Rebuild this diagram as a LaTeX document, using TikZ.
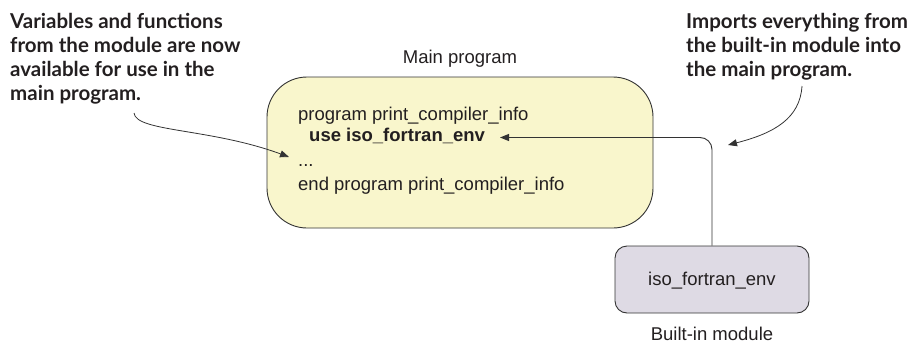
\documentclass[tikz,border=0pt]{standalone}
\usepackage{fontspec}
\setmainfont{Liberation Sans}
\newfontfamily\notefont{Lato}
\usetikzlibrary{arrows.meta}

\definecolor{progfill}{HTML}{F9F6CC}
\definecolor{modfill}{HTML}{DEDAE4}
\definecolor{inkgray}{HTML}{333333}
\definecolor{textdark}{HTML}{231F20}

\tikzset{
  box/.style={draw=inkgray, line width=0.9pt, inner sep=0pt},
  codeline/.style={anchor=base west, inner sep=0pt, text=textdark,
    font=\fontsize{18.5}{22}\selectfont},
  caption/.style={anchor=base, inner sep=0pt, text=textdark,
    font=\fontsize{18.5}{22}\selectfont},
  % multi-line notes: the base anchor sits on the last line
  note/.style={anchor=base west, inner sep=0pt, align=left, text=textdark,
    font=\notefont\bfseries\fontsize{20.5}{24}\selectfont},
  tip/.style={-{Triangle[length=9pt,width=7pt]}},
  link/.style={draw=inkgray, line width=0.9pt},
}

\begin{document}
\begin{tikzpicture}[x=1pt,y=-1pt]
  \useasboundingbox (0,0) rectangle (921,348);

  % main program block
  \node[box, fill=progfill, rounded corners=40pt, minimum width=386pt,
        minimum height=151pt] (main) at (460,152.5) {};
  \node[caption] (maincap) at (460,63) {Main program};

  % source lines inside the block
  \node[codeline] (l1) at (298,120) {program print\_compiler\_info};
  \node[codeline, font=\bfseries\fontsize{18.5}{22}\selectfont] (l2) at (309,141.5) {use iso\_fortran\_env};
  \node[codeline] (l3) at (298,166) {...};
  \node[codeline] (l4) at (298,190) {end program print\_compiler\_info};

  % built-in module block
  \node[box, fill=modfill, rounded corners=12pt, minimum width=194pt,
        minimum height=67pt] (mod) at (712,279.5) {};
  \node[anchor=base, inner sep=0pt, text=textdark,
        font=\fontsize{18.5}{22}\selectfont] (modname) at (712,285) {iso\_fortran\_env};
  \node[caption] (modcap) at (712,340) {Built-in module};

  % module feeds the use statement
  \coordinate (usetip) at (500,137.5);
  \draw[link, tip, rounded corners=12pt] (mod.north) |- (usetip);

  % annotations
  \node[note] (noteL) at (10,100) {Variables and functions\\from the module are now\\available for use in the\\main program.};
  \node[note] (noteR) at (686,76) {Imports everything from\\the built-in module into\\the main program.};

  \coordinate (noteLstart) at (134,113);
  \coordinate (noteLtip) at (289,157);
  \draw[link, line width=0.8pt, tip] (noteLstart) .. controls (136,132) and (210,128) .. (noteLtip);

  \coordinate (noteRstart) at (802,86);
  \coordinate (noteRtip) at (728,145);
  \draw[link, line width=0.8pt, tip] (noteRstart) .. controls (800,118) and (775,133) .. (noteRtip);
\end{tikzpicture}
\end{document}
